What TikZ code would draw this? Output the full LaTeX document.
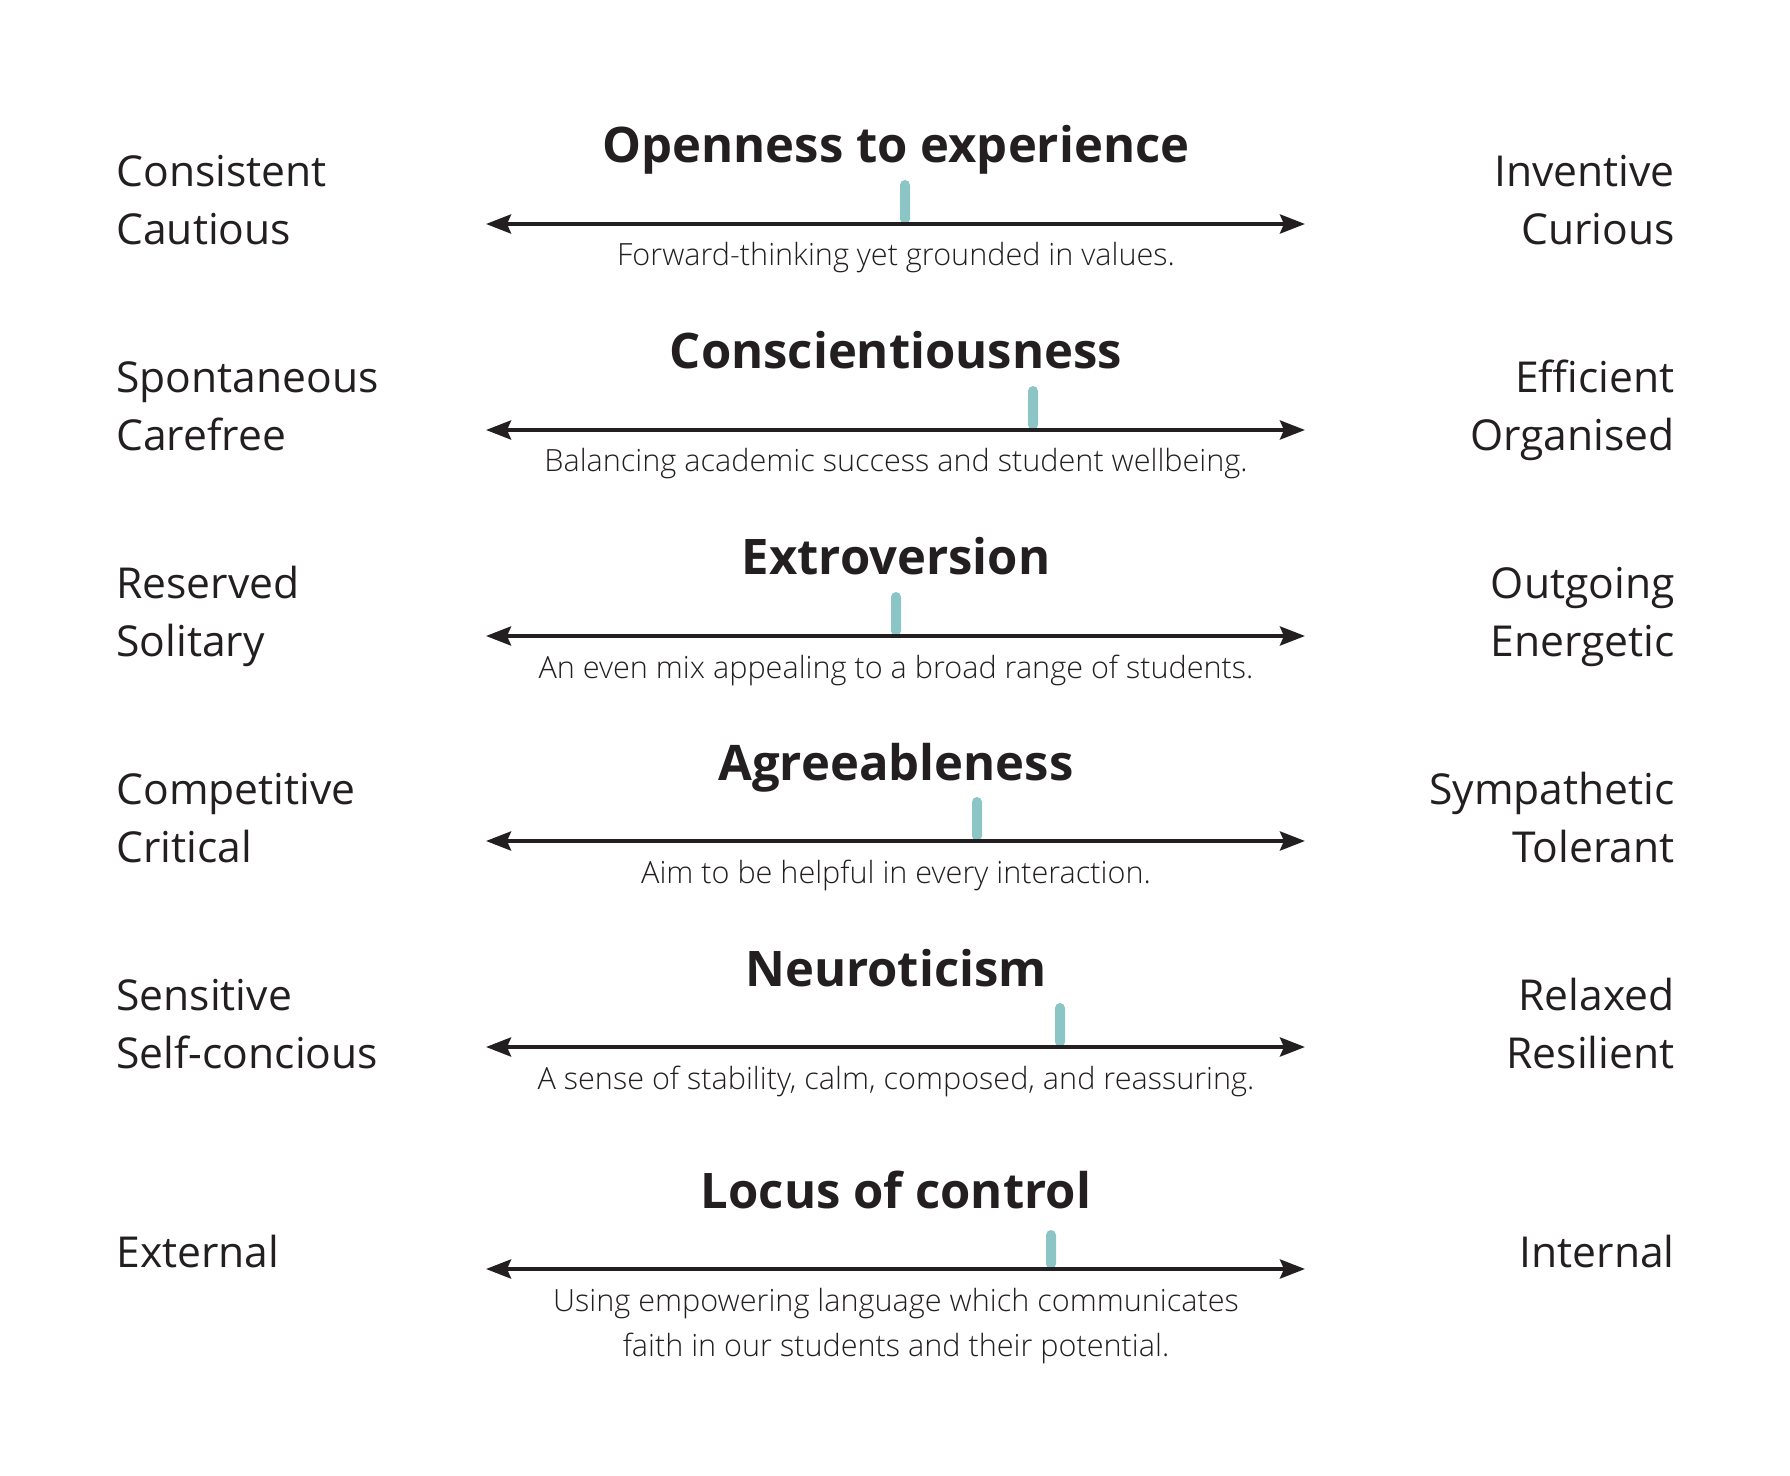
\documentclass[tikz,border=0pt]{standalone}
\usepackage{fontspec}
\setmainfont{Open Sans}
\newfontfamily\thinfont{Open Sans Light}
\usetikzlibrary{arrows.meta}
\definecolor{ink}{HTML}{231F20}
\definecolor{dial}{HTML}{8CC5C6}
\begin{document}
\begin{tikzpicture}[x=0.5pt,y=-0.5pt]
\tikzstyle{every node}=[inner sep=0pt,text=ink];
\tikzstyle{trait}=[anchor=base,font=\fontsize{24.5}{28}\selectfont\bfseries];
\tikzstyle{blurb}=[anchor=base,font=\fontsize{15.3}{22.5}\selectfont\thinfont];
\tikzstyle{lowend}=[anchor=base west,font=\fontsize{21.3}{29}\selectfont];
\tikzstyle{highend}=[anchor=base east,font=\fontsize{21.3}{29}\selectfont];
\tikzstyle{spectrum}=[draw=ink,line width=2pt,arrows={Stealth[length=12.5pt,width=9.5pt,inset=2pt]-Stealth[length=12.5pt,width=9.5pt,inset=2pt]}];
\tikzstyle{marker}=[fill=dial,rounded corners=2.5pt];
\useasboundingbox (0,0) rectangle (1790,1476);
% openness
\node[trait] (openT) at (896,163) {Openness to experience};
\node[lowend] (openA) at (116,187) {Consistent};
\node[lowend] (openB) at (116,245) {Cautious};
\node[highend] (openC) at (1675,187) {Inventive};
\node[highend] (openD) at (1675,245) {Curious};
\coordinate (openL) at (486,224);
\coordinate (openR) at (1305,224);
\fill[marker] (900,180) rectangle (910,224);
\draw[spectrum] (openL) -- (openR);
\node[blurb] (openS) at (896,266) {Forward-thinking yet grounded in values.};
% conscientiousness
\node[trait] (consT) at (896,369) {Conscientiousness};
\node[lowend] (consA) at (116,393) {Spontaneous};
\node[lowend] (consB) at (116,451) {Carefree};
\node[highend] (consC) at (1675,393) {Efficient};
\node[highend] (consD) at (1675,451) {Organised};
\coordinate (consL) at (486,430);
\coordinate (consR) at (1305,430);
\fill[marker] (1028,386) rectangle (1038,430);
\draw[spectrum] (consL) -- (consR);
\node[blurb] (consS) at (896,472) {Balancing academic success and student wellbeing.};
% extroversion
\node[trait] (extrT) at (896,575) {Extroversion};
\node[lowend] (extrA) at (116,599) {Reserved};
\node[lowend] (extrB) at (116,657) {Solitary};
\node[highend] (extrC) at (1675,599) {Outgoing};
\node[highend] (extrD) at (1675,657) {Energetic};
\coordinate (extrL) at (486,636);
\coordinate (extrR) at (1305,636);
\fill[marker] (891,592) rectangle (901,636);
\draw[spectrum] (extrL) -- (extrR);
\node[blurb] (extrS) at (896,678) {An even mix appealing to a broad range of students.};
% agreeableness
\node[trait] (agreT) at (896,780) {Agreeableness};
\node[lowend] (agreA) at (116,804) {Competitive};
\node[lowend] (agreB) at (116,862) {Critical};
\node[highend] (agreC) at (1675,804) {Sympathetic};
\node[highend] (agreD) at (1675,862) {Tolerant};
\coordinate (agreL) at (486,841);
\coordinate (agreR) at (1305,841);
\fill[marker] (972,797) rectangle (982,841);
\draw[spectrum] (agreL) -- (agreR);
\node[blurb] (agreS) at (896,883) {Aim to be helpful in every interaction.};
% neuroticism
\node[trait] (neurT) at (896,986) {Neuroticism};
\node[lowend] (neurA) at (116,1010) {Sensitive};
\node[lowend] (neurB) at (116,1068) {Self-concious};
\node[highend] (neurC) at (1675,1010) {Relaxed};
\node[highend] (neurD) at (1675,1068) {Resilient};
\coordinate (neurL) at (486,1047);
\coordinate (neurR) at (1305,1047);
\fill[marker] (1055,1003) rectangle (1065,1047);
\draw[spectrum] (neurL) -- (neurR);
\node[blurb] (neurS) at (896,1089) {A sense of stability, calm, composed, and reassuring.};
% locus of control
\node[trait] (locuT) at (896,1208) {Locus of control};
\node[lowend] (locuA) at (116,1267) {External};
\node[highend] (locuC) at (1675,1267) {Internal};
\coordinate (locuL) at (486,1269);
\coordinate (locuR) at (1305,1269);
\fill[marker] (1046,1230) rectangle (1056,1269);
\draw[spectrum] (locuL) -- (locuR);
\node[blurb] (locuS) at (896,1311) {Using empowering language which communicates};
\node[blurb] (locuU) at (896,1356) {faith in our students and their potential.};
\end{tikzpicture}
\end{document}
